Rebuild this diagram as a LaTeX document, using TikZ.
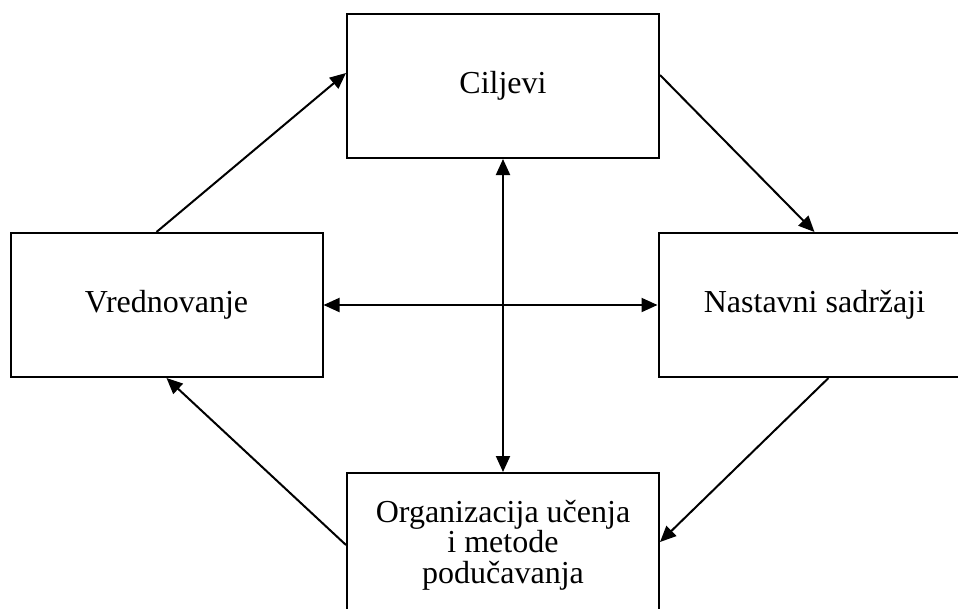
\documentclass[tikz,border=0pt]{standalone}
\usepackage{fontspec}
\setmainfont{Liberation Serif}
\usepackage{tikz}
\usetikzlibrary{arrows.meta,positioning}

\begin{document}
\begin{tikzpicture}[box/.style={rectangle, draw, minimum width=312pt, minimum height=144pt, inner sep=0pt, align=center, font=\fontsize{32}{30.5}\selectfont}, line width=2pt, >={Triangle[length=16pt,width=14pt]}]
			\useasboundingbox (0,0) rectangle (958pt,-608pt);
			\node[box] (cilj) at (503pt,-86pt) {Ciljevi};
			\node[box] (vred) [below=73pt of cilj, xshift=-336.5pt] {Vrednovanje};
			\node[box] (nast) [below=73pt of cilj, xshift=311.5pt] {Nastavni sadržaji};
			\node[box] (org) [below=313pt of cilj] {Organizacija učenja\\ i metode\\ podučavanja};
			
			\draw [->] ([xshift=-10pt]vred.north) -- ([yshift=13pt]cilj.west);
			\draw [->] ([yshift=11pt]cilj.east) -- (nast.north);
			\draw [->] ([xshift=14pt]nast.south) -- ([yshift=3pt]org.east);
			\draw [->] (org.west) -- (vred.south);
			\draw [<->] (cilj) -- (org);
			\draw [<->] (vred) -- (nast);
		\end{tikzpicture}
\end{document}
